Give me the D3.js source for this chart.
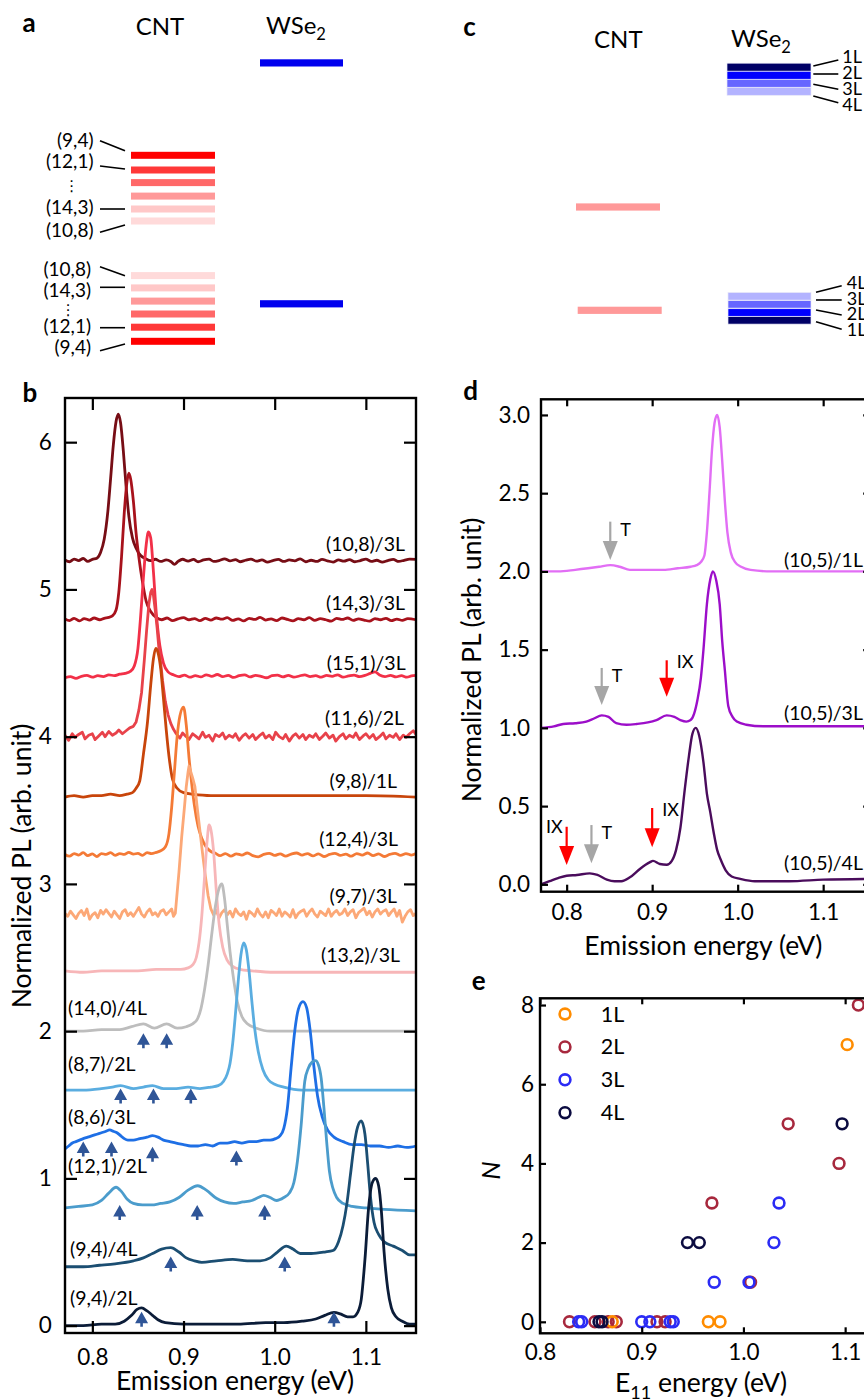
<!DOCTYPE html>
<html><head><meta charset="utf-8">
<script src="https://cdn.jsdelivr.net/npm/d3@7"></script>
<style>body{margin:0;background:#fff}svg{display:block}</style>
</head><body>
<svg id="fig" width="864" height="1399"></svg>
<script>
// ================= DATA =================
// ---- panel b : PL spectra (energy eV, intensity above own baseline) ----
const bNames   = ["(10,8)/3L","(14,3)/3L","(15,1)/3L","(11,6)/2L","(9,8)/1L","(12,4)/3L","(9,7)/3L","(13,2)/3L","(14,0)/4L","(8,7)/2L","(8,6)/3L","(12,1)/2L","(9,4)/4L","(9,4)/2L"];
const bOffsets = [5.2,4.8,4.4,4.0,3.6,3.2,2.8,2.4,2.0,1.6,1.2,0.8,0.4,0.0];
const bLabelE  = [1.1429,1.1429,1.1437,1.1418,1.1342,1.1353,1.1342,1.1374,0.7733,0.7733,0.7733,0.7733,0.7755,0.7755];
const bLabelY  = [5.26,4.86,4.45,4.08,3.65,3.26,2.87,2.47,2.11,1.73,1.37,1.04,0.47,0.14];
const bXTicks  = [0.8,0.9,1.0,1.1];
const bYTicks  = [0,1,2,3,4,5,6];
const bMarkers = [[0.856,1.985],[0.8815,1.985],[0.831,1.61],[0.867,1.61],[0.908,1.61],[0.790,1.25],[0.821,1.25],[0.866,1.215],[0.958,1.19],[0.830,0.82],[0.915,0.82],[0.989,0.82],[0.886,0.47],[1.011,0.47],[0.854,0.094],[1.065,0.094]];

const spec_10_8_3L = [[0.770,0.00],[0.775,-0.012],[0.780,0.006],[0.785,-0.004],[0.790,0.01],[0.795,-0.01],[0.800,0.004],[0.805,0.012],[0.809,0.05],[0.813,0.14],[0.817,0.33],[0.820,0.55],[0.823,0.78],[0.826,0.94],[0.8285,0.99],[0.831,0.93],[0.834,0.74],[0.837,0.50],[0.840,0.30],[0.844,0.15],[0.848,0.08],[0.853,0.03],[0.858,0.01],[0.864,-0.005],[0.869,0.005],[0.875,-0.01],[0.881,0.0],[0.886,-0.01],[0.890,-0.03],[0.894,-0.01],[0.899,0.005],[0.905,-0.008],[0.911,0.004],[0.916,-0.012],[0.922,0.0],[0.928,0.006],[0.933,-0.01],[0.939,-0.004],[0.945,0.008],[0.951,-0.006],[0.957,0.002],[0.962,-0.012],[0.968,-0.002],[0.974,0.006],[0.980,-0.008],[0.986,0.0],[0.992,-0.014],[0.998,-0.004],[1.004,0.004],[1.010,-0.01],[1.016,0.0],[1.022,-0.006],[1.028,0.008],[1.034,-0.012],[1.040,-0.002],[1.046,-0.01],[1.052,0.004],[1.058,-0.006],[1.064,-0.014],[1.070,0.0],[1.076,-0.008],[1.082,0.002],[1.088,-0.012],[1.094,-0.004],[1.100,0.006],[1.106,-0.01],[1.112,-0.002],[1.118,-0.014],[1.124,-0.004],[1.130,0.004],[1.136,-0.01],[1.142,-0.002],[1.148,0.006],[1.155,0.004]];
const spec_14_3_3L = [[0.770,0.00],[0.775,-0.012],[0.780,0.004],[0.786,-0.014],[0.791,0.002],[0.797,-0.008],[0.802,0.006],[0.808,-0.006],[0.813,0.004],[0.818,0.01],[0.822,0.02],[0.826,0.06],[0.829,0.18],[0.832,0.42],[0.835,0.72],[0.838,0.93],[0.840,0.99],[0.842,0.95],[0.845,0.80],[0.848,0.58],[0.851,0.42],[0.855,0.25],[0.859,0.12],[0.864,0.05],[0.870,0.01],[0.876,-0.006],[0.882,0.006],[0.888,-0.012],[0.894,0.0],[0.900,0.008],[0.906,-0.006],[0.912,0.002],[0.918,-0.012],[0.924,0.004],[0.930,-0.008],[0.936,0.006],[0.942,-0.002],[0.948,0.008],[0.954,-0.01],[0.960,0.0],[0.966,-0.014],[0.972,0.004],[0.978,-0.004],[0.984,0.01],[0.990,-0.008],[0.996,0.0],[1.002,-0.012],[1.008,0.006],[1.014,-0.004],[1.020,-0.014],[1.026,0.002],[1.032,-0.006],[1.038,0.008],[1.044,-0.01],[1.050,0.002],[1.056,-0.006],[1.062,-0.016],[1.068,0.004],[1.074,-0.004],[1.080,0.006],[1.086,-0.01],[1.092,0.0],[1.098,-0.008],[1.104,-0.016],[1.110,0.002],[1.116,-0.006],[1.122,0.004],[1.128,-0.012],[1.134,-0.002],[1.140,-0.01],[1.146,0.002],[1.155,-0.006]];
const spec_15_1_3L = [[0.770,0.00],[0.776,0.008],[0.782,-0.004],[0.788,0.01],[0.794,0.016],[0.800,0.004],[0.806,0.014],[0.812,0.008],[0.818,0.02],[0.824,0.014],[0.830,0.024],[0.836,0.03],[0.842,0.045],[0.846,0.08],[0.850,0.20],[0.853,0.42],[0.856,0.68],[0.859,0.90],[0.8615,0.99],[0.864,0.95],[0.867,0.72],[0.870,0.45],[0.874,0.22],[0.878,0.10],[0.883,0.04],[0.889,0.02],[0.895,0.008],[0.901,0.018],[0.907,0.004],[0.913,0.014],[0.919,0.006],[0.925,0.02],[0.931,0.01],[0.937,0.022],[0.943,0.008],[0.949,0.016],[0.955,0.002],[0.961,0.014],[0.967,0.02],[0.973,0.006],[0.979,0.016],[0.985,0.01],[0.991,0.0],[0.997,0.014],[1.003,0.018],[1.009,0.006],[1.015,0.016],[1.021,0.004],[1.027,0.012],[1.033,0.02],[1.039,0.008],[1.045,0.014],[1.051,0.004],[1.057,0.016],[1.063,0.01],[1.069,0.02],[1.075,0.004],[1.081,0.012],[1.087,0.018],[1.093,0.008],[1.099,0.016],[1.105,0.03],[1.110,0.04],[1.115,0.018],[1.121,0.008],[1.127,0.016],[1.133,0.006],[1.139,0.014],[1.145,0.004],[1.150,0.012],[1.155,0.016]];
const spec_11_6_2L = [[0.770,0.01],[0.774,-0.025],[0.778,0.02],[0.781,-0.005],[0.785,0.015],[0.789,0.03],[0.792,-0.015],[0.796,0.01],[0.800,0.02],[0.803,-0.02],[0.807,0.005],[0.811,0.03],[0.814,0.0],[0.818,0.035],[0.822,0.01],[0.826,0.025],[0.829,0.045],[0.833,0.02],[0.837,0.04],[0.841,0.06],[0.845,0.07],[0.848,0.10],[0.851,0.18],[0.854,0.30],[0.857,0.52],[0.8595,0.72],[0.862,0.90],[0.864,0.98],[0.8655,1.00],[0.867,0.96],[0.869,0.86],[0.871,0.74],[0.873,0.60],[0.875,0.50],[0.877,0.38],[0.880,0.24],[0.883,0.15],[0.886,0.09],[0.889,0.05],[0.892,0.02],[0.896,-0.01],[0.899,0.025],[0.903,0.0],[0.906,-0.02],[0.910,0.02],[0.913,0.005],[0.917,-0.015],[0.921,0.03],[0.924,-0.005],[0.928,0.01],[0.932,-0.03],[0.935,0.015],[0.939,0.0],[0.943,0.025],[0.946,-0.015],[0.950,0.01],[0.954,-0.005],[0.957,0.02],[0.961,-0.025],[0.965,0.005],[0.968,0.02],[0.972,-0.01],[0.976,0.015],[0.979,-0.02],[0.983,0.005],[0.987,0.025],[0.990,-0.01],[0.994,0.01],[0.998,-0.02],[1.001,0.03],[1.005,0.0],[1.009,-0.015],[1.012,0.015],[1.016,-0.03],[1.020,0.005],[1.023,0.02],[1.027,-0.01],[1.031,0.015],[1.034,-0.02],[1.038,0.01],[1.042,-0.005],[1.045,0.02],[1.049,-0.02],[1.053,0.005],[1.056,0.025],[1.060,-0.01],[1.064,0.01],[1.067,-0.03],[1.071,0.0],[1.075,0.02],[1.078,-0.015],[1.082,0.01],[1.086,-0.005],[1.089,0.025],[1.093,-0.02],[1.097,0.005],[1.100,0.02],[1.104,-0.01],[1.108,0.015],[1.111,-0.02],[1.115,0.0],[1.119,0.025],[1.122,-0.015],[1.126,0.01],[1.130,-0.005],[1.133,0.02],[1.137,-0.02],[1.141,0.01],[1.144,-0.005],[1.148,0.02],[1.152,0.04],[1.155,0.015]];
const spec_9_8_1L  = [[0.770,-0.01],[0.780,0.00],[0.790,-0.01],[0.800,0.00],[0.810,0.00],[0.820,0.01],[0.830,0.00],[0.838,0.01],[0.844,0.02],[0.848,0.05],[0.852,0.10],[0.856,0.28],[0.8605,0.50],[0.864,0.75],[0.867,0.93],[0.8695,1.00],[0.872,0.97],[0.875,0.86],[0.878,0.66],[0.881,0.45],[0.884,0.27],[0.888,0.11],[0.893,0.05],[0.900,0.02],[0.910,0.01],[0.930,0.00],[0.960,0.00],[1.000,0.00],[1.050,0.00],[1.100,0.00],[1.155,-0.01]];
const spec_12_4_3L = [[0.770,0.00],[0.775,-0.012],[0.780,0.006],[0.785,-0.004],[0.790,0.012],[0.795,-0.008],[0.800,0.004],[0.805,-0.014],[0.810,0.006],[0.815,0.0],[0.820,0.012],[0.825,-0.006],[0.830,0.006],[0.835,0.0],[0.840,0.014],[0.845,0.002],[0.850,0.008],[0.855,-0.006],[0.860,0.012],[0.865,0.006],[0.870,0.014],[0.875,0.025],[0.880,0.05],[0.884,0.14],[0.887,0.32],[0.890,0.56],[0.893,0.80],[0.896,0.94],[0.900,1.00],[0.903,0.88],[0.906,0.66],[0.909,0.48],[0.912,0.33],[0.916,0.19],[0.920,0.11],[0.925,0.05],[0.930,0.02],[0.935,0.008],[0.940,-0.008],[0.946,0.006],[0.952,-0.012],[0.958,0.004],[0.964,-0.004],[0.970,0.01],[0.976,-0.008],[0.982,-0.016],[0.988,0.0],[0.994,0.008],[1.000,-0.006],[1.006,0.004],[1.012,-0.012],[1.018,0.002],[1.024,0.01],[1.030,-0.004],[1.036,0.006],[1.042,-0.01],[1.048,0.004],[1.054,-0.014],[1.060,0.0],[1.066,0.008],[1.072,-0.006],[1.078,0.002],[1.084,-0.012],[1.090,0.006],[1.096,-0.004],[1.102,0.01],[1.108,-0.008],[1.114,0.004],[1.120,-0.014],[1.126,0.0],[1.132,0.008],[1.138,-0.006],[1.144,0.006],[1.150,-0.004],[1.155,0.006]];
const spec_9_7_3L  = [[0.770,0.00],[0.773,-0.02],[0.776,0.015],[0.779,-0.01],[0.782,-0.035],[0.785,0.0],[0.788,0.02],[0.791,-0.015],[0.794,0.03],[0.797,-0.04],[0.800,-0.01],[0.803,0.005],[0.806,-0.03],[0.809,0.02],[0.812,-0.005],[0.815,0.025],[0.818,0.0],[0.821,-0.025],[0.824,0.015],[0.827,-0.01],[0.830,-0.035],[0.833,0.01],[0.836,0.025],[0.839,-0.015],[0.842,0.005],[0.845,-0.02],[0.848,0.01],[0.851,0.04],[0.854,-0.005],[0.857,-0.025],[0.860,0.01],[0.863,0.03],[0.866,-0.01],[0.869,0.005],[0.872,-0.02],[0.875,0.015],[0.878,0.025],[0.881,-0.01],[0.884,0.01],[0.887,0.03],[0.889,-0.02],[0.891,0.00],[0.893,0.14],[0.895,0.28],[0.898,0.52],[0.901,0.72],[0.903,0.86],[0.905,0.96],[0.906,1.00],[0.908,0.96],[0.910,0.92],[0.9125,0.86],[0.915,0.72],[0.918,0.56],[0.921,0.40],[0.924,0.25],[0.927,0.12],[0.930,0.03],[0.933,-0.01],[0.936,0.02],[0.939,-0.03],[0.942,0.005],[0.945,0.025],[0.948,-0.01],[0.951,0.015],[0.954,-0.025],[0.957,0.03],[0.960,0.0],[0.963,-0.015],[0.966,0.01],[0.969,-0.04],[0.972,0.015],[0.975,0.0],[0.978,-0.02],[0.981,0.03],[0.984,-0.005],[0.987,-0.025],[0.990,0.01],[0.993,-0.03],[0.996,0.02],[0.999,0.005],[1.002,-0.015],[1.005,0.03],[1.008,-0.02],[1.011,0.01],[1.014,-0.005],[1.017,-0.025],[1.020,0.025],[1.023,-0.03],[1.026,0.0],[1.029,0.015],[1.032,0.025],[1.035,-0.02],[1.038,0.01],[1.041,0.03],[1.044,-0.005],[1.047,-0.025],[1.050,0.015],[1.053,0.0],[1.056,-0.015],[1.059,0.03],[1.062,-0.02],[1.065,0.005],[1.068,0.02],[1.071,-0.01],[1.074,0.0],[1.077,0.03],[1.080,-0.015],[1.083,0.01],[1.086,0.025],[1.089,-0.03],[1.092,0.005],[1.095,0.02],[1.098,0.035],[1.101,-0.01],[1.104,0.015],[1.107,-0.025],[1.110,0.01],[1.113,0.03],[1.116,-0.005],[1.119,0.015],[1.122,0.025],[1.125,-0.015],[1.128,0.01],[1.131,0.03],[1.134,-0.02],[1.137,0.02],[1.140,-0.06],[1.143,-0.02],[1.146,0.01],[1.149,0.025],[1.152,-0.015],[1.155,0.00]];
const spec_13_2_3L = [[0.770,0.01],[0.790,0.00],[0.810,0.01],[0.830,0.01],[0.850,0.01],[0.870,0.02],[0.885,0.02],[0.897,0.02],[0.905,0.03],[0.910,0.05],[0.914,0.10],[0.917,0.20],[0.920,0.38],[0.923,0.64],[0.926,0.90],[0.928,1.00],[0.930,0.97],[0.933,0.82],[0.936,0.55],[0.939,0.33],[0.943,0.17],[0.948,0.08],[0.954,0.04],[0.962,0.02],[0.975,0.01],[1.000,0.00],[1.050,0.00],[1.100,0.00],[1.155,0.00]];
const spec_14_0_4L = [[0.770,0.00],[0.790,0.00],[0.810,0.01],[0.830,0.01],[0.843,0.03],[0.856,0.05],[0.868,0.02],[0.8815,0.05],[0.893,0.02],[0.903,0.03],[0.910,0.05],[0.915,0.08],[0.919,0.15],[0.923,0.28],[0.927,0.45],[0.931,0.66],[0.935,0.85],[0.939,0.97],[0.942,1.00],[0.945,0.90],[0.948,0.72],[0.951,0.54],[0.955,0.35],[0.959,0.20],[0.964,0.10],[0.970,0.05],[0.980,0.02],[0.995,0.00],[1.050,0.00],[1.100,0.00],[1.155,0.00]];
const spec_8_7_2L  = [[0.770,0.00],[0.790,0.00],[0.810,0.01],[0.822,0.02],[0.831,0.03],[0.845,0.01],[0.856,0.02],[0.866,0.03],[0.878,0.01],[0.892,0.01],[0.905,0.02],[0.918,0.01],[0.930,0.02],[0.938,0.03],[0.944,0.06],[0.948,0.11],[0.951,0.18],[0.954,0.32],[0.957,0.52],[0.960,0.74],[0.963,0.92],[0.966,1.00],[0.969,0.95],[0.972,0.80],[0.975,0.60],[0.978,0.42],[0.982,0.26],[0.987,0.14],[0.993,0.07],[1.000,0.04],[1.010,0.02],[1.030,0.00],[1.080,0.00],[1.155,0.00]];
const spec_8_6_3L  = [[0.770,0.00],[0.774,0.02],[0.778,0.04],[0.782,0.05],[0.786,0.06],[0.790,0.07],[0.795,0.08],[0.800,0.09],[0.805,0.10],[0.810,0.11],[0.815,0.12],[0.819,0.13],[0.823,0.12],[0.827,0.11],[0.831,0.09],[0.835,0.07],[0.839,0.06],[0.845,0.06],[0.852,0.07],[0.860,0.08],[0.866,0.09],[0.872,0.08],[0.878,0.06],[0.885,0.05],[0.892,0.04],[0.900,0.03],[0.908,0.02],[0.916,0.02],[0.924,0.03],[0.932,0.02],[0.940,0.04],[0.948,0.04],[0.956,0.05],[0.964,0.04],[0.972,0.05],[0.980,0.05],[0.988,0.06],[0.995,0.06],[1.001,0.07],[1.006,0.09],[1.010,0.14],[1.014,0.28],[1.018,0.55],[1.022,0.80],[1.026,0.95],[1.031,1.00],[1.035,0.96],[1.039,0.80],[1.043,0.56],[1.047,0.36],[1.052,0.22],[1.058,0.13],[1.065,0.08],[1.075,0.05],[1.085,0.03],[1.095,0.03],[1.105,0.02],[1.115,0.02],[1.125,0.01],[1.135,0.02],[1.145,0.01],[1.155,0.02]];
const spec_12_1_2L = [[0.770,0.00],[0.785,0.01],[0.800,0.02],[0.810,0.05],[0.818,0.10],[0.826,0.14],[0.832,0.11],[0.838,0.06],[0.845,0.03],[0.855,0.02],[0.865,0.02],[0.875,0.03],[0.885,0.04],[0.895,0.07],[0.905,0.12],[0.9155,0.15],[0.925,0.12],[0.936,0.065],[0.945,0.04],[0.955,0.03],[0.965,0.04],[0.975,0.05],[0.982,0.07],[0.988,0.085],[0.995,0.07],[1.002,0.05],[1.010,0.07],[1.016,0.10],[1.021,0.17],[1.025,0.32],[1.029,0.56],[1.033,0.86],[1.037,0.95],[1.041,0.99],[1.0447,1.00],[1.048,0.97],[1.051,0.88],[1.054,0.68],[1.057,0.45],[1.060,0.25],[1.064,0.13],[1.068,0.07],[1.075,0.03],[1.085,0.01],[1.100,0.00],[1.120,-0.01],[1.155,-0.02]];
const spec_9_4_4L  = [[0.770,0.00],[0.790,0.00],[0.808,0.01],[0.825,0.02],[0.845,0.04],[0.856,0.06],[0.866,0.09],[0.876,0.12],[0.886,0.13],[0.895,0.10],[0.903,0.06],[0.912,0.04],[0.920,0.03],[0.936,0.04],[0.954,0.05],[0.970,0.04],[0.984,0.04],[0.995,0.06],[1.003,0.10],[1.0128,0.14],[1.020,0.12],[1.028,0.09],[1.040,0.09],[1.055,0.10],[1.064,0.11],[1.070,0.17],[1.075,0.28],[1.079,0.42],[1.083,0.62],[1.087,0.82],[1.091,0.95],[1.095,0.99],[1.099,0.90],[1.102,0.70],[1.105,0.48],[1.109,0.30],[1.114,0.22],[1.120,0.17],[1.130,0.14],[1.140,0.11],[1.148,0.08],[1.155,0.08]];
const spec_9_4_2L  = [[0.770,0.00],[0.790,0.00],[0.810,0.01],[0.825,0.01],[0.835,0.03],[0.843,0.07],[0.849,0.11],[0.854,0.12],[0.860,0.10],[0.866,0.07],[0.872,0.04],[0.880,0.02],[0.900,0.01],[0.930,0.01],[0.960,0.01],[0.990,0.02],[1.010,0.02],[1.030,0.03],[1.045,0.045],[1.055,0.07],[1.065,0.09],[1.072,0.08],[1.080,0.06],[1.086,0.06],[1.091,0.09],[1.095,0.18],[1.099,0.45],[1.103,0.80],[1.107,0.97],[1.1107,1.00],[1.114,0.95],[1.117,0.78],[1.120,0.50],[1.124,0.25],[1.128,0.12],[1.133,0.06],[1.140,0.03],[1.148,0.01],[1.155,0.01]];
const bSpectra = [spec_10_8_3L,spec_14_3_3L,spec_15_1_3L,spec_11_6_2L,spec_9_8_1L,spec_12_4_3L,spec_9_7_3L,spec_13_2_3L,spec_14_0_4L,spec_8_7_2L,spec_8_6_3L,spec_12_1_2L,spec_9_4_4L,spec_9_4_2L];
const bNoisy = [false,false,false,true,false,false,true,false,false,false,false,false,false,false];

// ---- panel d ----
const dNames   = ["(10,5)/1L","(10,5)/3L","(10,5)/4L"];
const dOffsets = [2.0,1.0,0.0];
const dLabelY  = [2.03,1.05,0.09];
const dLabelE  = 1.0542;
const dXTicks  = [0.8,0.9,1.0,1.1];
const dYTicks  = [0,0.5,1,1.5,2,2.5,3];
const spec_10_5_1L = [[0.770,0.00],[0.790,0.00],[0.810,0.01],[0.825,0.02],[0.838,0.03],[0.851,0.04],[0.862,0.03],[0.874,0.01],[0.890,0.01],[0.913,0.01],[0.930,0.02],[0.945,0.03],[0.952,0.04],[0.957,0.06],[0.961,0.10],[0.964,0.25],[0.967,0.50],[0.970,0.78],[0.973,0.95],[0.976,1.00],[0.979,0.92],[0.982,0.70],[0.985,0.45],[0.988,0.25],[0.992,0.12],[0.997,0.06],[1.004,0.03],[1.015,0.01],[1.040,0.00],[1.155,0.00]];
const spec_10_5_3L = [[0.770,0.00],[0.785,0.01],[0.796,0.025],[0.810,0.03],[0.823,0.04],[0.832,0.06],[0.841,0.08],[0.849,0.07],[0.858,0.03],[0.870,0.02],[0.882,0.025],[0.895,0.035],[0.905,0.05],[0.917,0.08],[0.926,0.07],[0.933,0.05],[0.940,0.04],[0.945,0.05],[0.949,0.09],[0.953,0.18],[0.957,0.32],[0.960,0.50],[0.964,0.79],[0.968,0.95],[0.971,1.00],[0.975,0.94],[0.979,0.79],[0.982,0.55],[0.985,0.37],[0.989,0.14],[0.994,0.07],[0.999,0.04],[1.010,0.02],[1.030,0.01],[1.155,0.01]];
const spec_10_5_4L = [[0.770,0.00],[0.780,0.02],[0.790,0.04],[0.800,0.055],[0.812,0.06],[0.827,0.07],[0.836,0.06],[0.847,0.03],[0.856,0.02],[0.864,0.02],[0.874,0.045],[0.886,0.10],[0.897,0.14],[0.901,0.15],[0.909,0.13],[0.917,0.125],[0.923,0.15],[0.928,0.22],[0.933,0.36],[0.938,0.60],[0.943,0.82],[0.947,0.96],[0.951,1.00],[0.955,0.95],[0.960,0.78],[0.964,0.58],[0.968,0.46],[0.972,0.33],[0.976,0.22],[0.980,0.16],[0.986,0.09],[0.993,0.05],[1.003,0.035],[1.020,0.02],[1.060,0.02],[1.100,0.03],[1.155,0.035]];
const dSpectra = [spec_10_5_1L,spec_10_5_3L,spec_10_5_4L];
// arrows: energy, tip value, tail value, label
const dArrows = [
  {E:0.851,tip:2.073,tail:2.318,lab:"T"},
  {E:0.841,tip:1.146,tail:1.383,lab:"T"},
  {E:0.917,tip:1.199,tail:1.432,lab:"IX"},
  {E:0.800,tip:0.124,tail:0.368,lab:"IX",left:true},
  {E:0.829,tip:0.135,tail:0.379,lab:"T"},
  {E:0.900,tip:0.237,tail:0.488,lab:"IX"}
];

// ---- panel e : N vs E11 ----
const eLayers = ["1L","2L","3L","4L"];
const e1L = [[1.102,7],[0.871,0],[0.9655,0],[0.977,0]];
const e2L = [[1.113,8],[1.044,5],[1.094,4],[0.969,3],[1.007,1],[0.829,0],[0.854,0],[0.867,0],[0.875,0],[0.915,0],[0.923,0]];
const e3L = [[1.035,3],[1.030,2],[0.9713,1],[1.0055,1],[0.838,0],[0.841,0],[0.900,0],[0.908,0],[0.928,0],[0.931,0]];
const e4L = [[1.097,5],[0.945,2],[0.9566,2],[0.858,0],[0.861,0]];
const eXTicks = [0.8,0.9,1.0,1.1];
const eYTicks = [0,2,4,6,8];

// ---- panel a / c : schematic level energies (arb. units) ----
const aCntUpper = [64.9,60.0,55.8,51.3,47.0,43.0];   // (9,4) ... (10,8)
const aCntLower = [2.9,7.6,12.0,16.3,20.7,24.8];     // (9,4) ... (10,8)
const aWse2     = [95.7,15.4];
const aLabels = [
  {t:"(9,4)",v:70.0,l0:69.77,l1:66.43,g:0},{t:"(12,1)",v:62.77,l0:61.33,l1:60.33,g:0},
  {t:"(14,3)",v:47.5,l0:47.0,l1:47.0,g:0},{t:"(10,8)",v:39.83,l0:39.23,l1:41.67,g:0},
  {t:"(10,8)",v:26.93,l0:27.77,l1:24.77,g:1},{t:"(14,3)",v:19.83,l0:20.9,l1:20.9,g:1},
  {t:"(12,1)",v:7.77,l0:7.43,l1:7.43,g:1},{t:"(9,4)",v:0.93,l0:-0.23,l1:2.0,g:1}];
const aDots = [54.7,13.33];
const cCnt      = [47.67,13.23];
const cLayers   = ["1L","2L","3L","4L"];
const cWseUpper = [94.27,91.57,88.9,86.23];
const cWseLower = [9.9,12.5,15.23,17.9];
const cLabUpper = [{v:97.9,l0:94.67,l1:96.67},{v:92.43,l0:92.0,l1:92.0},{v:87.23,l0:88.57,l1:86.9},{v:81.9,l0:84.67,l1:82.43}];
const cLabLower = [{v:6.77,l0:9.43,l1:6.9},{v:12.23,l0:13.33,l1:11.67},{v:17.23,l0:16.67,l1:16.67},{v:22.33,l0:19.23,l1:21.43}];

// ================= STYLE / LAYOUT =================
const FONT = "Lato, 'Open Sans', sans-serif";
const bColors = ["#770d15","#a8121c","#f23048","#e8424a","#c8450b","#f47a36","#fca877","#f7b6b8","#bdbdbd","#5aade0","#1e6fe5","#4b9ccc","#1b4e72","#0b1c38"];
const dColors = ["#e26ef5","#9c0ec9","#4a0c5c"];
const eColors = ["#ff8c00","#a7283d","#2b2bf5","#0b0b40"];
const redShades = ["#ff0000","#ff3838","#ff6868","#ff9999","#ffc8c8","#ffdada"];
const layerBlue = ["#000066","#0000ff","#6666ff","#b3b3ff"];

const svg = d3.select("#fig").style("font-family",FONT);

function txt(g,x,y,s,fs,o={}) {
  const t = g.append("text").attr("x",x).attr("y",y).text(s)
    .style("font-size",fs+"px").attr("fill","#000");
  if (o.anchor) t.attr("text-anchor",o.anchor);
  if (o.weight) t.style("font-weight",o.weight);
  if (o.dy) t.attr("dy",o.dy);
  if (o.style) t.style("font-style",o.style);
  return t;
}

function frameAxes(x,y,o) {
  const g = svg.append("g");
  const [x0,x1] = x.range(), [y0,y1] = y.range();
  const gb = g.append("g").attr("transform",`translate(0,${y0})`)
    .call(d3.axisBottom(x).tickValues(o.xt).tickSize(-o.tl).tickPadding(o.xp).tickFormat(d3.format(".1f")));
  const gt = g.append("g").attr("transform",`translate(0,${y1})`)
    .call(d3.axisTop(x).tickValues(o.xt).tickSize(-o.tl).tickFormat(""));
  const gl = g.append("g").attr("transform",`translate(${x0},0)`)
    .call(d3.axisLeft(y).tickValues(o.yt).tickSize(-o.tl).tickPadding(o.yp).tickFormat(o.yf));
  const gr = g.append("g").attr("transform",`translate(${x1},0)`)
    .call(d3.axisRight(y).tickValues(o.yt).tickSize(-o.tl).tickFormat(""));
  [gb,gt,gl,gr].forEach(a=>{
    a.select(".domain").remove();
    a.selectAll(".tick line").attr("stroke","#000").attr("stroke-width",2.2);
    a.selectAll("text").attr("fill","#000").style("font-size",o.fs+"px").style("font-family",FONT);
  });
  g.append("rect").attr("x",x0).attr("y",y1).attr("width",x1-x0).attr("height",y0-y1)
    .attr("fill","none").attr("stroke","#000").attr("stroke-width",2.4);
  return g;
}

// ================= PANEL a =================
const ga = svg.append("g");
const yA = d3.scaleLinear().domain([0,100]).range([350,50]);
txt(ga,22.5,31.7,"a",26,{weight:"bold"});
txt(ga,160,35,"CNT",24,{anchor:"middle"});
{ const t = txt(ga,266,33.5,"WSe",24); t.append("tspan").attr("dy",6.5).style("font-size","16.5px").text("2"); }
ga.selectAll("rect.wa").data(aWse2).join("rect").attr("x",260).attr("width",83)
  .attr("y",d=>yA(d)-3.6).attr("height",7.2).attr("fill","#0000ee");
ga.selectAll("rect.cu").data(aCntUpper).join("rect").attr("x",131).attr("width",84)
  .attr("y",d=>yA(d)-3.5).attr("height",7).attr("fill",(d,i)=>redShades[i]);
ga.selectAll("rect.cl").data(aCntLower).join("rect").attr("x",131).attr("width",84)
  .attr("y",d=>yA(d)-3.5).attr("height",7).attr("fill",(d,i)=>redShades[i]);
aLabels.forEach(L=>{
  txt(ga,L.g?91:93.5,yA(L.v),L.t,19,{anchor:"end",dy:"0.35em"});
  ga.append("line").attr("x1",100).attr("x2",125).attr("y1",yA(L.l0)).attr("y2",yA(L.l1))
    .attr("stroke","#000").attr("stroke-width",1.6);
});
aDots.forEach((v,i)=>{
  txt(ga,i?68.3:71.7,yA(v),"⋮",15,{anchor:"middle",dy:"0.35em"}).style("font-family","DejaVu Sans");
});

// ================= PANEL c =================
const gc = svg.append("g");
txt(gc,463.3,36,"c",26,{weight:"bold"});
txt(gc,618.3,48.3,"CNT",24,{anchor:"middle"});
{ const t = txt(gc,731,46.7,"WSe",24); t.append("tspan").attr("dy",6.5).style("font-size","16.5px").text("2"); }
gc.selectAll("rect.cc").data(cCnt).join("rect").attr("x",(d,i)=>i?577.7:576).attr("width",84)
  .attr("y",d=>yA(d)-3.6).attr("height",7.2).attr("fill","#ff9999");
gc.selectAll("rect.wu").data(cWseUpper).join("rect").attr("x",727).attr("width",84)
  .attr("y",d=>yA(d)-4).attr("height",8).attr("fill",(d,i)=>layerBlue[i])
  .attr("stroke","#e8e8f8").attr("stroke-width",0.7);
gc.selectAll("rect.wl").data(cWseLower).join("rect").attr("x",728).attr("width",83)
  .attr("y",d=>yA(d)-3.8).attr("height",7.6).attr("fill",(d,i)=>layerBlue[i])
  .attr("stroke","#e8e8f8").attr("stroke-width",0.7);
cLabUpper.forEach((L,i)=>{
  txt(gc,842.3,yA(L.v),cLayers[i],18,{dy:"0.35em"});
  gc.append("line").attr("x1",813.3).attr("x2",838.3).attr("y1",yA(L.l0)).attr("y2",yA(L.l1)).attr("stroke","#000").attr("stroke-width",1.6);
});
cLabLower.forEach((L,i)=>{
  txt(gc,846.7,yA(L.v),cLayers[i],18,{dy:"0.35em"});
  gc.append("line").attr("x1",816).attr("x2",841.7).attr("y1",yA(L.l0)).attr("y2",yA(L.l1)).attr("stroke","#000").attr("stroke-width",1.6);
});

// ================= PANEL b =================
const bX = d3.scaleLinear().domain([0.77,1.155]).range([65,416]);
const bY = d3.scaleLinear().domain([-0.05,6.3]).range([1333,398]);
const gbp = svg.append("g");
bSpectra.forEach((s,i)=>{
  const line = d3.line().x(d=>bX(d[0])).y(d=>bY(d[1]+bOffsets[i]))
    .curve(bNoisy[i] ? d3.curveLinear : d3.curveMonotoneX);
  gbp.append("path").attr("d",line(s)).attr("fill","none").attr("stroke",bColors[i])
    .attr("stroke-width",2.8).attr("stroke-linejoin","round");
});
bNames.forEach((n,i)=>{
  txt(gbp,bX(bLabelE[i]),bY(bLabelY[i]),n,19.5,{anchor:i<8?"end":"start"});
});
gbp.selectAll("path.mk").data(bMarkers).join("path")
  .attr("transform",d=>`translate(${bX(d[0])},${bY(d[1])})`)
  .attr("d","M0,0L6.5,11.5L1.3,11.5L1.3,15L-1.3,15L-1.3,11.5L-6.5,11.5Z")
  .attr("fill","#2f5597");
frameAxes(bX,bY,{xt:bXTicks,yt:bYTicks,tl:12,xp:16.4,yp:13.3,fs:22.5,yf:d3.format("d")});
txt(svg,22.5,401.5,"b",26,{weight:"bold"});
txt(svg,0,0,"Normalized PL (arb. unit)",26.5,{anchor:"middle"}).attr("transform","translate(31,866) rotate(-90)");
txt(svg,235,1390,"Emission energy (eV)",26.5,{anchor:"middle"});

// ================= PANEL d =================
const dX = d3.scaleLinear().domain([0.77,1.155]).range([541,870.2]);
const dY = d3.scaleLinear().domain([-0.047,3.1]).range([891.7,399.3]);
const gdp = svg.append("g");
dSpectra.forEach((s,i)=>{
  const line = d3.line().x(d=>dX(d[0])).y(d=>dY(d[1]+dOffsets[i])).curve(d3.curveMonotoneX);
  gdp.append("path").attr("d",line(s)).attr("fill","none").attr("stroke",dColors[i])
    .attr("stroke-width",2.4).attr("stroke-linejoin","round");
});
dNames.forEach((n,i)=> txt(gdp,dX(dLabelE),dY(dLabelY[i]),n,19.5));
dArrows.forEach(a=>{
  const col = a.lab==="T" ? "#a6a6a6" : "#ff0000";
  const x = dX(a.E), yt = dY(a.tip), yl = dY(a.tail);
  gdp.append("line").attr("x1",x).attr("x2",x).attr("y1",yl).attr("y2",yt-15).attr("stroke",col).attr("stroke-width",2.2);
  gdp.append("path").attr("d",`M${x-7.5},${yt-19}L${x+7.5},${yt-19}L${x},${yt}Z`).attr("fill",col);
  if (a.left) txt(gdp,x-4,yl+6,a.lab,18,{anchor:"end"});
  else if (a.lab==="IX") txt(gdp,x+10,yl+8,a.lab,18);
  else txt(gdp,x+10,yl+14,a.lab,18);
});
frameAxes(dX,dY,{xt:dXTicks,yt:dYTicks,tl:7,xp:12.7,yp:11,fs:22.5,yf:d3.format(".1f")});
txt(svg,463.3,399.5,"d",26,{weight:"bold"});
txt(svg,0,0,"Normalized PL (arb. unit)",26.5,{anchor:"middle"}).attr("transform","translate(481,660) rotate(-90)");
txt(svg,703.3,955,"Emission energy (eV)",26.5,{anchor:"middle"});

// ================= PANEL e =================
const eX = d3.scaleLinear().domain([0.8,1.15]).range([540,896]);
const eY = d3.scaleLinear().domain([-0.29,8.17]).range([1333.3,998.3]);
const gep = svg.append("g");
const eSets = [e2L,e3L,e1L,e4L], eIdx = [1,2,0,3];
eSets.forEach((set,k)=>{
  gep.selectAll(null).data(set).join("circle").attr("cx",d=>eX(d[0])).attr("cy",d=>eY(d[1]))
    .attr("r",5.4).attr("fill","none").attr("stroke",eColors[eIdx[k]]).attr("stroke-width",2.6);
});
frameAxes(eX,eY,{xt:eXTicks,yt:eYTicks,tl:6,xp:11.1,yp:6,fs:22.5,yf:d3.format("d")});
eLayers.forEach((n,i)=>{
  const yy = 1014 + i*32.9;
  gep.append("circle").attr("cx",565).attr("cy",yy).attr("r",5.4).attr("fill","none")
    .attr("stroke",eColors[i]).attr("stroke-width",2.6);
  txt(gep,600.7,yy,n,21.5,{dy:"0.35em"});
});
txt(svg,471.7,990,"e",26,{weight:"bold"});
txt(svg,0,0,"N",26,{anchor:"middle",style:"italic"}).attr("transform","translate(500,1170.5) rotate(-90)");
{ const t = txt(svg,615,1391.5,"E",26.5);
  t.append("tspan").attr("dy",7).style("font-size","18px").text("11");
  t.append("tspan").attr("dy",-7).text(" energy (eV)"); }
</script>
</body></html>
